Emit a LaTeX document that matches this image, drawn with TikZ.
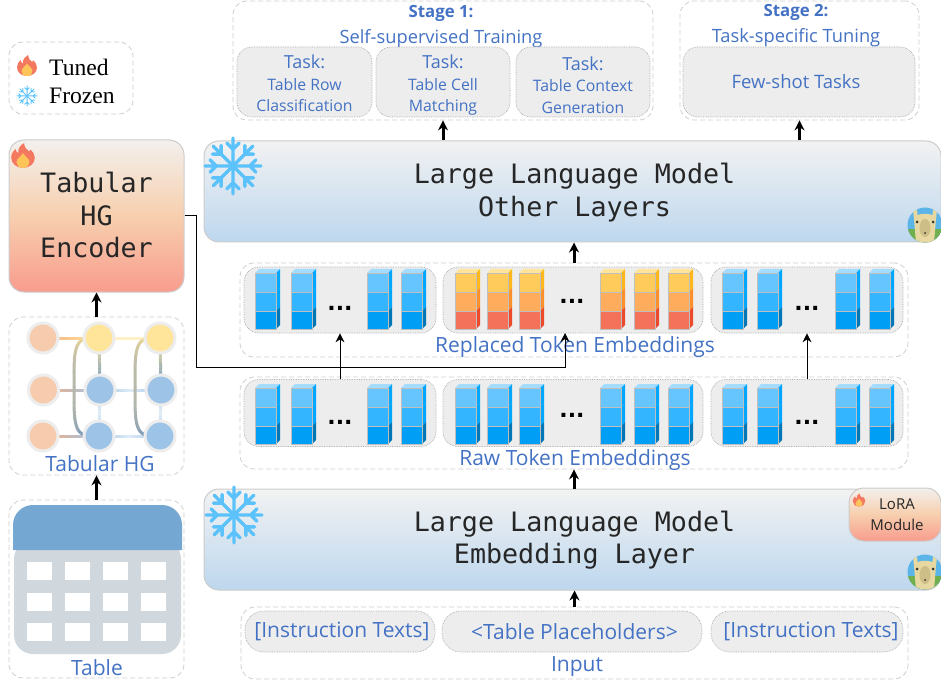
\documentclass[tikz,border=0pt]{standalone}
\usepackage{fontspec}
\setmainfont{Liberation Serif}
\newfontfamily\blfont{Open Sans}
\newfontfamily\mnfont{DejaVu Sans Mono}
\newfontfamily\djvfont{DejaVu Sans}
\usetikzlibrary{arrows.meta,calc,backgrounds}
\definecolor{txtblue}{HTML}{4472C4}
\definecolor{dashc}{HTML}{CFCFCF}
\definecolor{dotc}{HTML}{ABABAB}
\definecolor{grayf}{HTML}{EDEDED}
\definecolor{peach}{HTML}{F6CBAE}
\definecolor{yel}{HTML}{FFE599}
\definecolor{blu}{HTML}{9DC3E6}
\definecolor{pale}{HTML}{DEEBF7}
\definecolor{orng}{HTML}{F4B183}
\definecolor{snow}{HTML}{5BC2FB}
\definecolor{fl}{HTML}{F4775F}
\definecolor{fli}{HTML}{FDC45A}
\definecolor{cellg}{HTML}{BFBFBF}
\definecolor{ca}{HTML}{66C5FF}
\definecolor{cb}{HTML}{33B5FF}
\definecolor{cc}{HTML}{009FF5}
\definecolor{sa}{HTML}{00A6FF}
\definecolor{sb}{HTML}{00A6FF}
\definecolor{sc}{HTML}{0078B8}
\definecolor{ta}{HTML}{A3DCFF}
\definecolor{wa}{HTML}{FFCC5C}
\definecolor{wb}{HTML}{FFAD5C}
\definecolor{wc}{HTML}{F4715A}
\definecolor{xa}{HTML}{FFB81C}
\definecolor{xb}{HTML}{FF8F2B}
\definecolor{xc}{HTML}{EB4A2D}
\definecolor{tb}{HTML}{FFE49B}
\definecolor{llmb}{HTML}{BDD7EE}
\definecolor{warmt}{HTML}{F3F0ED}
\definecolor{warmm}{HTML}{F7CFAE}
\definecolor{warmb}{HTML}{F89C8E}
\definecolor{curveb}{HTML}{6290C4}
\definecolor{sky}{HTML}{5BB5E8}
\definecolor{grass}{HTML}{6FAF4F}
\definecolor{body}{HTML}{E6D8A0}
\definecolor{muzzle}{HTML}{CDBE87}
\definecolor{tabh}{HTML}{75A7D3}
\definecolor{tabb}{HTML}{D0D8DE}
\tikzset{
 outerbox/.style={draw=dashc,line width=.8pt,rounded corners=14pt,inner sep=0pt,dash pattern=on 5pt off 3pt},
 graybox/.style={draw=dotc,densely dotted,line width=.7pt,fill=grayf,rounded corners=15pt,inner sep=0pt},
 labeltxt/.style={text=txtblue,font=\blfont\fontsize{21}{24}\selectfont,inner sep=0pt},
 tasktxt/.style={text=txtblue,font=\blfont\fontsize{15.8}{21.5}\selectfont,align=center},
 inputtxt/.style={text=txtblue,font=\blfont\fontsize{21}{24}\selectfont},
 llmbox/.style={draw=black!20,line width=1pt,rounded corners=15pt,top color=black!5,bottom color=llmb,inner sep=0pt},
 llmtxt/.style={text=black!85,align=center,inner sep=0pt,font=\mnfont\fontsize{26.7}{32.3}\selectfont},
 warmbox/.style={draw=black!20,line width=1pt,rounded corners=15pt,top color=warmt,bottom color=warmb,middle color=warmm,inner sep=0pt,text=black!85,align=center},
 bigarrow/.style={line width=3pt,-{Stealth[length=10pt,width=10pt]},black},
 thinarrow/.style={line width=1pt,-{Stealth[length=9pt,width=9pt]},black},
 hgnode/.style={circle,minimum size=30pt,inner sep=0pt,draw=black!7,line width=3pt},
 dotstxt/.style={font=\djvfont\bfseries\fontsize{22}{22}\selectfont,inner sep=0pt},
 hglink/.style={line width=3pt},
}
\newcommand\sidelast{sc}
\newcommand\tokstack[8]{%
 \begin{scope}[shift={(#1,#2)}]
 \fill[#8] (0,0)--(4,-4)--(25,-4)--(21,0)--cycle;
 \fill[#6] (21,0)--(25,-4)--(25,15)--(21,19)--cycle;
 \fill[#7] (21,19)--(25,15)--(25,34)--(21,38)--cycle;
 \fill[\sidelast] (21,38)--(25,34)--(25,52)--(21,56)--cycle;
 \draw[cellg,line width=.8pt,fill=#3] (0,0) rectangle (21,19);
 \draw[cellg,line width=.8pt,fill=#4] (0,19) rectangle (21,38);
 \draw[cellg,line width=.8pt,fill=#5] (0,38) rectangle (21,56);
 \end{scope}}
\newcommand\coldstack[2]{\renewcommand\sidelast{sc}\tokstack{#1}{#2}{ca}{cb}{cc}{sa}{sb}{ta}}
\newcommand\warmstack[2]{\renewcommand\sidelast{xc}\tokstack{#1}{#2}{wa}{wb}{wc}{xa}{xb}{tb}}
\newcommand\flame[3]{%
 \begin{scope}[shift={(#1,#2)},scale=#3]
 \fill[fl] (0,10.5) .. controls (-6,10.5) and (-10,6.5) .. (-10,1.5) .. controls (-10,-1.5) and (-8,-4) .. (-6.5,-5.5) .. controls (-6,-3.5) and (-5,-2.5) .. (-4,-2) .. controls (-4.5,-6) and (-2,-9) .. (1,-10.5) .. controls (1,-7) and (3,-5.5) .. (5,-3.5) .. controls (5.5,-4) and (6,-4.5) .. (6.5,-5) .. controls (8.5,-3) and (10,-1) .. (10,2) .. controls (10,6.5) and (6,10.5) .. (0,10.5) -- cycle;
 \fill[fli] (0,10.5) .. controls (-4,10.5) and (-5.5,8) .. (-5.5,5.5) .. controls (-5.5,3) and (-2,1) .. (0,-2) .. controls (2,1) and (5.5,3) .. (5.5,5.5) .. controls (5.5,8) and (4,10.5) .. (0,10.5) -- cycle;
 \end{scope}}
\newcommand\snowflake[4]{%
 \begin{scope}[shift={(#1,#2)},scale=#3/10]
 \foreach \a in {0,45,...,315}{
  \draw[snow,line width=#4,line cap=round,rotate=\a] (0,0)--(10,0) (6,0)--(8.2,2.2) (6,0)--(8.2,-2.2);
 }
 \end{scope}}
\newcommand\llama[2]{%
 \begin{scope}[shift={(#1,#2)}]
 \begin{scope}
 \clip (0,0) circle (17.5);
 \fill[sky] (-18,-18) rectangle (18,18);
 \fill[grass] (-18,4) rectangle (18,18);
 \fill[body] (-11,-6) .. controls (-11,-13) and (11,-13) .. (11,-6) -- (9,18) -- (-9,18) -- cycle;
 \fill[body] (-12,-15) -- (-8,-15) -- (-7,-6) -- (-11,-6) -- cycle (12,-15) -- (8,-15) -- (7,-6) -- (11,-6) -- cycle;
 \fill[muzzle] (0,3) ellipse [x radius=5.5,y radius=9];
 \fill[black!80] (-8,-3) circle (1.5) (8,-3) circle (1.5) (0,8) circle (1);
 \end{scope}
 \end{scope}}
\newcommand\glink[4]{%
 \foreach \i in {0,...,15}{
  \pgfmathsetmacro\myta{\i/16}\pgfmathsetmacro\mytz{(\i+1)/16}
  \pgfmathtruncatemacro\mypp{100-\i*100/15}
  \draw[hglink,#3!\mypp!#4] ($(#1)!\myta!(#2)$) -- ($(#1)!\mytz!(#2)$);
 }}
\newcommand\glinkm[5]{%
 \coordinate (tmpm) at ($(#1)!.5!(#2)$);
 \glink{#1}{tmpm}{#3}{#4}\glink{tmpm}{#2}{#4}{#5}}
\newcommand\gcurve[2]{%
 \foreach \i in {0,...,39}{
  \pgfmathsetmacro\mya{-90+\i*180/40}\pgfmathsetmacro\myz{-90+(\i+1)*180/40}
  \pgfmathsetmacro\dxa{-25*pow(max(abs(cos(\mya)),0.001),0.45)}
  \pgfmathsetmacro\dxz{-25*pow(max(abs(cos(\myz)),0.001),0.45)}
  \pgfmathsetmacro\ua{(1+sign(sin(\mya))*pow(max(abs(sin(\mya)),0.001),0.45))/2}
  \pgfmathsetmacro\uz{(1+sign(sin(\myz))*pow(max(abs(sin(\myz)),0.001),0.45))/2}
  \pgfmathtruncatemacro\mypp{100-\i*100/39}
  \draw[hglink,yel!\mypp!curveb!90!orng,line cap=round] ($(#1)!\ua!(#2)+(\dxa,0)$) -- ($(#1)!\uz!(#2)+(\dxz,0)$);
 }}
\begin{document}
\begin{tikzpicture}[x=1pt,y=-1pt]
\useasboundingbox (0,0) rectangle (941,684);
\begin{scope}[on background layer]
\fill[white] (0,0) rectangle (941,684);
\end{scope}

% legend
\node[outerbox,minimum width=124pt,minimum height=72pt] (legend) at (71,78) {};
\flame{27}{65.5}{1}
\snowflake{27}{96}{10}{1pt}
\node[anchor=west,inner sep=0pt,font=\fontsize{23.6}{26}\selectfont] (tuned) at (49,67) {Tuned};
\node[anchor=west,inner sep=0pt,font=\fontsize{23.6}{26}\selectfont] (frozen) at (49,96) {Frozen};

% encoder
\node[warmbox,minimum width=175pt,minimum height=152pt] (enc) at (96.5,216) {};
\node[llmtxt,font=\mnfont\fontsize{26.7}{32.8}\selectfont] (enct) at (96.5,215) {Tabular\\HG\\Encoder};
\flame{23}{155.5}{1.18}

% tabular HG
\node[outerbox,minimum width=175pt,minimum height=158pt] (hg) at (96.5,396) {};
\foreach \n/\x/\y/\c in {a1/43/338/peach,a2/99/338/yel,a3/160/338/yel,b1/43.5/390/peach,b2/100/390/blu,b3/161/390/blu,c1/43/436/peach,c2/99/436/blu,c3/160/436/blu}{
 \node[hgnode,fill=\c] (\n) at (\x,\y) {};
}
\begin{scope}[on background layer]
\glink{a1}{a2}{orng}{yel}
\glink{a2}{a3}{yel}{yel!55}
\glink{b1}{b2}{orng}{blu}
\glinkm{b2}{b3}{blu}{pale}{blu}
\glink{c1}{c2}{orng}{blu}
\glinkm{c2}{c3}{blu}{pale}{blu}
\glink{a2}{b2}{yel}{curveb}
\glink{a3}{b3}{yel}{curveb}
\glinkm{b2}{c2}{blu}{pale}{blu}
\glinkm{b3}{c3}{blu}{pale}{blu}
\gcurve{a2}{c2}
\gcurve{a3}{c3}
\end{scope}
\node[labeltxt] (hgl) at (100,464) {Tabular HG};

% table
\node[outerbox,minimum width=175pt,minimum height=178pt] (tab) at (96.5,589) {};
\fill[tabb,rounded corners=19pt] (14,540) -- (14,654) -- (181,654) -- (181,540) -- cycle;
\fill[tabh] (13,550) [rounded corners=20pt] -- (13,505) -- (182,505) [sharp corners] -- (182,550) -- cycle;
\foreach \x in {27,65,103,141}{\foreach \y in {562,593,623}{\fill[white] (\x,\y) rectangle ++(24.5,17.5);}}
\node[labeltxt] (tabl) at (97,668) {Table};

% stages
\node[outerbox,minimum width=420pt,minimum height=119pt] (s1) at (443,60.5) {};
\node[labeltxt,font=\blfont\bfseries\fontsize{16.8}{20}\selectfont] (s1a) at (441,13.5) {Stage 1:};
\node[labeltxt,font=\blfont\fontsize{18.3}{22}\selectfont] (s1b) at (441,38.5) {Self-supervised Training};
\node[graybox,tasktxt,minimum width=135pt,minimum height=70pt] (t1) at (304.5,82) {\rule{0pt}{20pt}{\fontsize{18}{18}\selectfont Task:}\\Table Row\\Classification\vphantom{g}};
\node[graybox,tasktxt,minimum width=134pt,minimum height=70pt] (t2) at (443,82) {\rule{0pt}{20pt}{\fontsize{18}{18}\selectfont Task:}\\Table Cell\\Matching};
\node[graybox,tasktxt,minimum width=134pt,minimum height=70pt] (t3) at (583,82) {\rule{0pt}{20pt}{\fontsize{18}{18}\selectfont Task:}\\Table Context\\Generation};
\node[outerbox,minimum width=239pt,minimum height=119pt] (s2) at (799.5,60.5) {};
\node[labeltxt,font=\blfont\bfseries\fontsize{16.8}{20}\selectfont] (s2a) at (796,12.5) {Stage 2:};
\node[labeltxt,font=\blfont\fontsize{18.3}{22}\selectfont] (s2b) at (796,37.5) {Task-specific Tuning};
\node[graybox,minimum width=232pt,minimum height=70pt,text=txtblue,font=\blfont\fontsize{18.5}{22}\selectfont] (t4) at (799,82) {\kern-6pt Few-shot Tasks};

% LLM other
\node[llmbox,minimum width=737pt,minimum height=101pt] (other) at (572.5,191.5) {};
\node[llmtxt] (othert) at (574.5,192.5) {Large Language Model\\Other Layers};
\snowflake{233}{166}{28}{3.4pt}
\llama{925}{225}

% replaced
\node[outerbox,minimum width=668pt,minimum height=94pt] (rep) at (574,310) {};
\node[graybox,minimum width=192pt,minimum height=66pt] (repA) at (340,300) {};
\node[graybox,minimum width=260pt,minimum height=66pt] (repB) at (573,300) {};
\node[graybox,minimum width=192pt,minimum height=66pt] (repC) at (807,300) {};
\node[labeltxt] (repl) at (575,347) {Replaced Token Embeddings};
% raw
\node[outerbox,minimum width=668pt,minimum height=92pt] (raw) at (574,423) {};
\node[graybox,minimum width=192pt,minimum height=67pt] (rawA) at (340,413) {};
\node[graybox,minimum width=260pt,minimum height=67pt] (rawB) at (573,413) {};
\node[graybox,minimum width=192pt,minimum height=67pt] (rawC) at (807,413) {};
\node[labeltxt] (rawl) at (575,460) {Raw Token Embeddings};

\foreach \y in {273,388}{
 \foreach \x in {255,291,367,401,722,757,835,869}{\coldstack{\x}{\y}}
}
\foreach \x in {455,487,519,600,634,668}{\warmstack{\x}{273}\coldstack{\x}{388}}
\foreach \n/\x/\y in {d1/340/308,d2/572/301,d3/807/308,d4/340/422,d5/572/415,d6/807/422}{
 \node[dotstxt] (\n) at (\x,\y) {...};
}

% LLM embedding
\node[llmbox,minimum width=737pt,minimum height=101pt] (emb) at (572.5,539.5) {};
\node[llmtxt] (embt) at (574.5,540) {Large Language Model\\Embedding Layer};
\snowflake{234}{515}{28}{3.4pt}
\llama{925}{572}
\node[warmbox,minimum width=92pt,minimum height=53pt,font=\blfont\fontsize{15}{21}\selectfont] (lora) at (895,514.5) {\hspace{4pt}LoRA\\\hspace{4pt}Module};
\flame{859}{500}{.62}

% input
\node[outerbox,minimum width=667pt,minimum height=72pt] (inp) at (574.5,643) {};
\node[graybox,rounded corners=19pt,minimum width=190pt,minimum height=41pt,inputtxt] (inA) at (340,631.5) {\hspace{4pt}[Instruction Texts]};
\node[graybox,rounded corners=19pt,minimum width=260pt,minimum height=41pt,inputtxt] (inB) at (572,631.5) {\hspace{5pt}<Table Placeholders>};
\node[graybox,rounded corners=19pt,minimum width=192pt,minimum height=41pt,inputtxt] (inC) at (807,631.5) {\hspace{8pt}[Instruction Texts]};
\node[labeltxt] (inl) at (577,667) {Input};

% connectors
\draw[bigarrow] (tab.north) -- (hg.south);
\draw[bigarrow] (hg.north) -- (enc.south);
\draw[bigarrow] (inp.north) -- (emb.south -| inp.north);
\draw[bigarrow] (emb.north -| raw.south) -- (raw.south);
\draw[bigarrow] (rep.north) -- (other.south -| rep.north);
\draw[bigarrow] (other.north -| s1.south) -- (s1.south);
\draw[bigarrow] (other.north -| s2.south) -- (s2.south);
\draw[thinarrow] (rawA.north) -- (repA.south);
\draw[thinarrow] (rawC.north) -- (repC.south);
\coordinate (encTurn) at (196,367);
\coordinate (encEnd) at (565,333);
\draw[thinarrow] (enc.east) -- (encTurn |- enc.east) -- (encTurn) -- (encTurn -| encEnd) -- (encEnd);
\end{tikzpicture}
\end{document}
